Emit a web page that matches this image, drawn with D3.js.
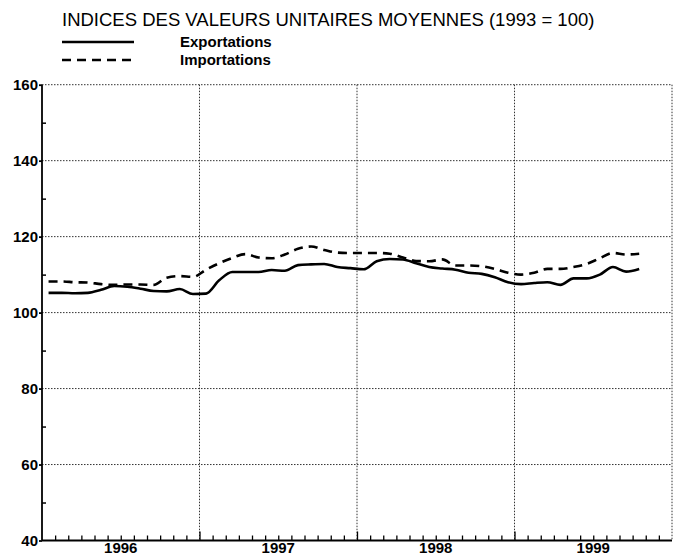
<!DOCTYPE html>
<html><head><meta charset="utf-8">
<script src="https://cdn.jsdelivr.net/npm/d3@7"></script>
<style>body{margin:0;background:#fff;} svg{display:block;}</style>
</head><body>
<svg id="c" width="678" height="557"></svg>
<script>
const title = "INDICES DES VALEURS UNITAIRES MOYENNES (1993 = 100)";
const seriesNames = ["Exportations", "Importations"];
const years = [1996, 1997, 1998, 1999];
const yTicks = [40, 60, 80, 100, 120, 140, 160];
const yMinorTicks = [50, 70, 90, 110, 130, 150];
// monthly values, Jan 1996 - Oct 1999
const exportations = [105.2,105.2,105.1,105.2,106.0,107.0,106.8,106.3,105.7,105.6,106.2,104.9,
  105.0,108.5,110.7,110.7,110.7,111.2,111.0,112.5,112.7,112.8,112.0,111.7,
  111.4,113.5,114.1,114.0,113.0,112.0,111.6,111.3,110.5,110.2,109.3,108.0,
  107.5,107.8,108.0,107.3,109.0,109.0,110.0,112.0,110.8,111.5];
const importations = [108.2,108.2,108.0,107.9,107.5,107.3,107.4,107.4,107.3,109.2,109.6,109.4,
  111.3,113.0,114.4,115.4,114.5,114.3,115.3,116.8,117.4,116.5,115.8,115.7,
  115.7,115.7,115.5,114.5,113.6,113.5,114.0,112.4,112.4,112.2,111.5,110.5,
  110.0,110.5,111.5,111.5,112.0,112.8,114.3,115.7,115.3,115.5];

const svg = d3.select("#c");
const L = 42, R = 672, T = 84.7, B = 540.5;
const x = d3.scaleLinear().domain([0, 48]).range([L, R]);
const y = d3.scaleLinear().domain([40, 160]).range([B, T]);
const font = "'Liberation Sans', Arial, sans-serif";

// title & legend
svg.append("text").attr("x", 62).attr("y", 26).attr("font-family", font)
  .attr("font-size", 18.5).attr("fill", "#000").text(title);
const leg = [{name: seriesNames[0], dash: null, y: 42}, {name: seriesNames[1], dash: "9,6", y: 60}];
leg.forEach(d => {
  svg.append("line").attr("x1", 62).attr("x2", 134).attr("y1", d.y).attr("y2", d.y)
    .attr("stroke", "#000").attr("stroke-width", 2.5).attr("stroke-dasharray", d.dash);
  svg.append("text").attr("x", 180).attr("y", d.y + 5).attr("font-family", font)
    .attr("font-size", 15).attr("font-weight", "bold").text(d.name);
});

// grid
const grid = svg.append("g").attr("stroke", "#333").attr("stroke-width", 1).attr("stroke-dasharray", "1.5,1.5");
yTicks.filter(v => v > 40).forEach(v => {
  grid.append("line").attr("x1", L).attr("x2", R).attr("y1", y(v)).attr("y2", y(v));
});
years.forEach((yr, i) => {
  grid.append("line").attr("x1", x((i + 1) * 12)).attr("x2", x((i + 1) * 12)).attr("y1", T).attr("y2", B);
});

// y axis
const yAxis = d3.axisLeft(y).tickValues(yTicks).tickSize(3).tickPadding(1);
const ga = svg.append("g").attr("transform", `translate(${L},0)`).call(yAxis);
ga.select(".domain").attr("stroke-width", 1.8).attr("d", `M0,${T}V${B}`);
ga.selectAll(".tick line").attr("stroke-width", 1.8);
ga.selectAll("text").attr("font-family", font).attr("font-size", 15).attr("font-weight", "bold").attr("fill", "#000");
svg.append("g").attr("transform", `translate(${L},0)`)
  .call(d3.axisRight(y).tickValues(yMinorTicks).tickSize(4).tickFormat(""))
  .call(g => g.select(".domain").remove())
  .selectAll("line").attr("stroke-width", 1.5);

// x axis
const months = d3.range(1, 48);
const gx = svg.append("g").attr("transform", `translate(0,${B})`)
  .call(d3.axisTop(x).tickValues(months).tickSize(5).tickFormat(""));
gx.select(".domain").attr("stroke-width", 1.8).attr("d", `M${L},0H${R}`);
gx.selectAll(".tick line").attr("stroke-width", 1.3)
  .attr("y2", d => d % 12 === 0 ? -9 : -5);
years.forEach((yr, i) => {
  svg.append("text").attr("x", x(i * 12 + 6)).attr("y", 553).attr("text-anchor", "middle")
    .attr("font-family", font).attr("font-size", 15).attr("font-weight", "bold").text(yr);
});

// lines
const line = d3.line().x((d, i) => x(i + 0.5)).y(d => y(d)).curve(d3.curveMonotoneX);
svg.append("path").datum(exportations).attr("d", line).attr("fill", "none")
  .attr("stroke", "#000").attr("stroke-width", 2.6).attr("stroke-linejoin", "round");
svg.append("path").datum(importations).attr("d", line).attr("fill", "none")
  .attr("stroke", "#000").attr("stroke-width", 2.6).attr("stroke-dasharray", "9,6");
</script>
</body></html>
